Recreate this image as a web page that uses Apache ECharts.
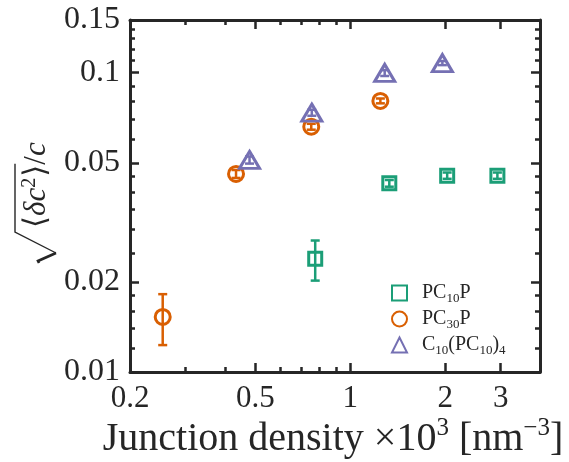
<!DOCTYPE html>
<html><head><meta charset="utf-8">
<script src="https://cdn.jsdelivr.net/npm/echarts@6/dist/echarts.min.js"></script>
<style>html,body{margin:0;padding:0;background:#fff}#c{width:569px;height:462px}</style>
</head><body><div id="c"></div>
<script>
// ---- data ----
const xMajorTicks = [0.2, 0.5, 1, 2, 3];
const xMinorTicks = [0.3, 0.4, 0.6, 0.7, 0.8, 0.9];
const yMajorTicks = [0.01, 0.02, 0.05, 0.1, 0.15];
const yMinorTicks = [0.012, 0.014, 0.016, 0.018, 0.025, 0.03, 0.035, 0.04, 0.045, 0.06, 0.07, 0.08, 0.09, 0.11, 0.12, 0.13, 0.14];
const seriesNames = ['PC10P', 'PC30P', 'C10(PC10)4'];

const pc10pX  = [0.774, 1.33, 2.03, 2.93];
const pc10pY  = [0.0239, 0.0427, 0.0453, 0.0453];
const pc10pLo = [0.0202, 0.0416, 0.0442, 0.0442];
const pc10pHi = [0.0275, 0.0438, 0.0464, 0.0464];

const pc30pX  = [0.254, 0.434, 0.752, 1.246];
const pc30pY  = [0.01527, 0.0459, 0.0660, 0.0805];
const pc30pLo = [0.0123, 0.0445, 0.0645, 0.0790];
const pc30pHi = [0.0182, 0.0473, 0.0675, 0.0820];

const c10X  = [0.479, 0.755, 1.286, 1.96];
const c10Y  = [0.0511, 0.0735, 0.0998, 0.1077];
const c10Lo = [0.0497, 0.0718, 0.0975, 0.1060];
const c10Hi = [0.0525, 0.0752, 0.1020, 0.1094];

const colors = ['#1b9e77', '#d95f02', '#7570b3'];
const FONT = "'Liberation Serif','Times New Roman',serif";
const INK = '#262626';

const chart = echarts.init(document.getElementById('c'), null, {renderer: 'canvas'});

function fmt(v) { return String(parseFloat(Number(v).toPrecision(6))); }

function xAx(pos, ticks, len, labels, line) {
  return {
    type: 'log', logBase: 10, min: 0.2, max: 4, position: pos,
    axisLine: {show: line, lineStyle: {color: INK, width: 3}},
    axisTick: {show: true, inside: true, length: len, customValues: ticks, lineStyle: {color: INK, width: 2.5}},
    axisLabel: labels ? {show: true, customValues: ticks, formatter: fmt, margin: 11, fontFamily: FONT, fontSize: 31, color: INK} : {show: false},
    splitLine: {show: false}, minorTick: {show: false}
  };
}
function yAx(pos, ticks, len, labels, line) {
  return {
    type: 'log', logBase: 10, min: 0.01, max: 0.15, position: pos,
    axisLine: {show: line, lineStyle: {color: INK, width: 3}},
    axisTick: {show: true, inside: true, length: len, customValues: ticks, lineStyle: {color: INK, width: 2.5}},
    axisLabel: labels ? {show: true, customValues: ticks, formatter: fmt, margin: 10, fontFamily: FONT, fontSize: 32, color: INK} : {show: false},
    splitLine: {show: false}, minorTick: {show: false}
  };
}

function errSeries(xs, lo, hi, color, id) {
  return {
    type: 'custom', id: id, name: id, xAxisIndex: 0, yAxisIndex: 0, silent: true, z: 2,
    encode: {x: 0, y: [1, 2]},
    data: xs.map((x, i) => [x, lo[i], hi[i]]),
    renderItem: function (params, api) {
      const a = api.coord([api.value(0), api.value(1)]);
      const b = api.coord([api.value(0), api.value(2)]);
      const cw = 4.5;
      const st = {stroke: color, lineWidth: 2.5};
      return {type: 'group', children: [
        {type: 'line', shape: {x1: a[0], y1: a[1], x2: b[0], y2: b[1]}, style: st},
        {type: 'line', shape: {x1: a[0] - cw, y1: a[1], x2: a[0] + cw, y2: a[1]}, style: st},
        {type: 'line', shape: {x1: b[0] - cw, y1: b[1], x2: b[0] + cw, y2: b[1]}, style: st}
      ]};
    }
  };
}
function scat(name, xs, ys, color, symbol, size) {
  return {
    type: 'scatter', name: name, xAxisIndex: 0, yAxisIndex: 0, z: 3,
    symbol: symbol, symbolSize: size,
    itemStyle: {color: 'rgba(255,255,255,0)', borderColor: color, borderWidth: 3, opacity: 1},
    data: xs.map((x, i) => [x, ys[i]])
  };
}

// y-axis label pieces, measured to lay out with a radical
const cv = document.createElement('canvas').getContext('2d');
function mw(t, f) { cv.font = f; return cv.measureText(t).width; }
const yf = 31;
const fN = yf + "px 'DejaVu Serif','Liberation Serif',serif";
const fI = "italic " + yf + "px 'Liberation Serif',serif";
const fS = "20px 'Liberation Serif',serif";
const pieces = [
  {t: '\u27E8', f: fN, dy: 0},
  {t: '\u03B4', f: fI, dy: 0},
  {t: 'c', f: fI, dy: 0},
  {t: '2', f: fS, dy: -12},
  {t: '\u27E9', f: fN, dy: 0},
  {t: '/', f: yf + "px 'Liberation Serif',serif", dy: 0},
  {t: 'c', f: fI, dy: 0}
];
let lx = -36;
const ylabelChildren = [];
let overEnd = 0;
pieces.forEach((p, i) => {
  ylabelChildren.push({type: 'text', x: lx, y: p.dy + 7, style: {text: p.t, font: p.f, fill: INK, verticalAlign: 'bottom'}});
  lx += mw(p.t, p.f) + (i === 3 ? 1 : 0);
  if (i === 4) overEnd = lx + 1;
});
ylabelChildren.push({type: 'polyline', shape: {points: [[overEnd, -30], [-40, -30], [-61, 11]]}, style: {stroke: INK, lineWidth: 1.4, fill: null}});
ylabelChildren.push({type: 'polyline', shape: {points: [[-61, 11], [-69, -7], [-71, -6]]}, style: {stroke: INK, lineWidth: 2.6, fill: null}});

const option = {
  backgroundColor: '#fff',
  animation: false,
  grid: {left: 130, top: 20, right: 29, bottom: 90, containLabel: false},
  xAxis: [
    xAx('bottom', xMajorTicks, 9, true, true),
    xAx('bottom', xMinorTicks, 5, false, false),
    xAx('top', xMajorTicks, 9, false, true),
    xAx('top', xMinorTicks, 5, false, false)
  ],
  yAxis: [
    yAx('left', yMajorTicks, 9, true, true),
    yAx('left', yMinorTicks, 5, false, false),
    yAx('right', yMajorTicks, 9, false, true),
    yAx('right', yMinorTicks, 5, false, false)
  ],
  legend: {
    data: seriesNames, orient: 'vertical', left: 386, top: 276,
    itemWidth: 15, itemHeight: 15, itemGap: 2,
    textStyle: {fontFamily: FONT, fontSize: 20, color: INK, lineHeight: 24,
      rich: {g: {width: 10, lineHeight: 24},
             n: {fontFamily: FONT, fontSize: 20, color: INK, lineHeight: 24},
             s: {fontFamily: FONT, fontSize: 13, color: INK, lineHeight: 8, verticalAlign: 'bottom'}}},
    formatter: function (name) {
      return '{g|}' + name.replace(/(\d+)/g, '\u0001$1\u0002').split(/[\u0001\u0002]/).map((t, i) => t === '' ? '' : (i % 2 ? '{s|' + t + '}' : '{n|' + t + '}')).join('');
    }
  },
  series: [
    errSeries(pc10pX, pc10pLo, pc10pHi, colors[0], 'e0'),
    errSeries(pc30pX, pc30pLo, pc30pHi, colors[1], 'e1'),
    errSeries(c10X, c10Lo, c10Hi, colors[2], 'e2'),
    scat(seriesNames[0], pc10pX, pc10pY, colors[0], 'rect', 13),
    scat(seriesNames[1], pc30pX, pc30pY, colors[1], 'circle', 15),
    scat(seriesNames[2], c10X, c10Y, colors[2], 'triangle', [20, 17])
  ],
  graphic: [
    {type: 'text', x: 333, y: 439,
     style: {text: '{n|Junction density ×10}{p|3}{n| [nm}{p|\u22123}{n|]}', align: 'center', verticalAlign: 'middle',
       rich: {n: {fontFamily: FONT, fontSize: 40, fill: INK, lineHeight: 46},
              p: {fontFamily: FONT, fontSize: 25, fill: INK, lineHeight: 27, verticalAlign: 'top'}}}},
    {type: 'group', x: 45, y: 192, rotation: Math.PI / 2, children: ylabelChildren}
  ]
};
chart.setOption(option);
</script>
</body></html>
